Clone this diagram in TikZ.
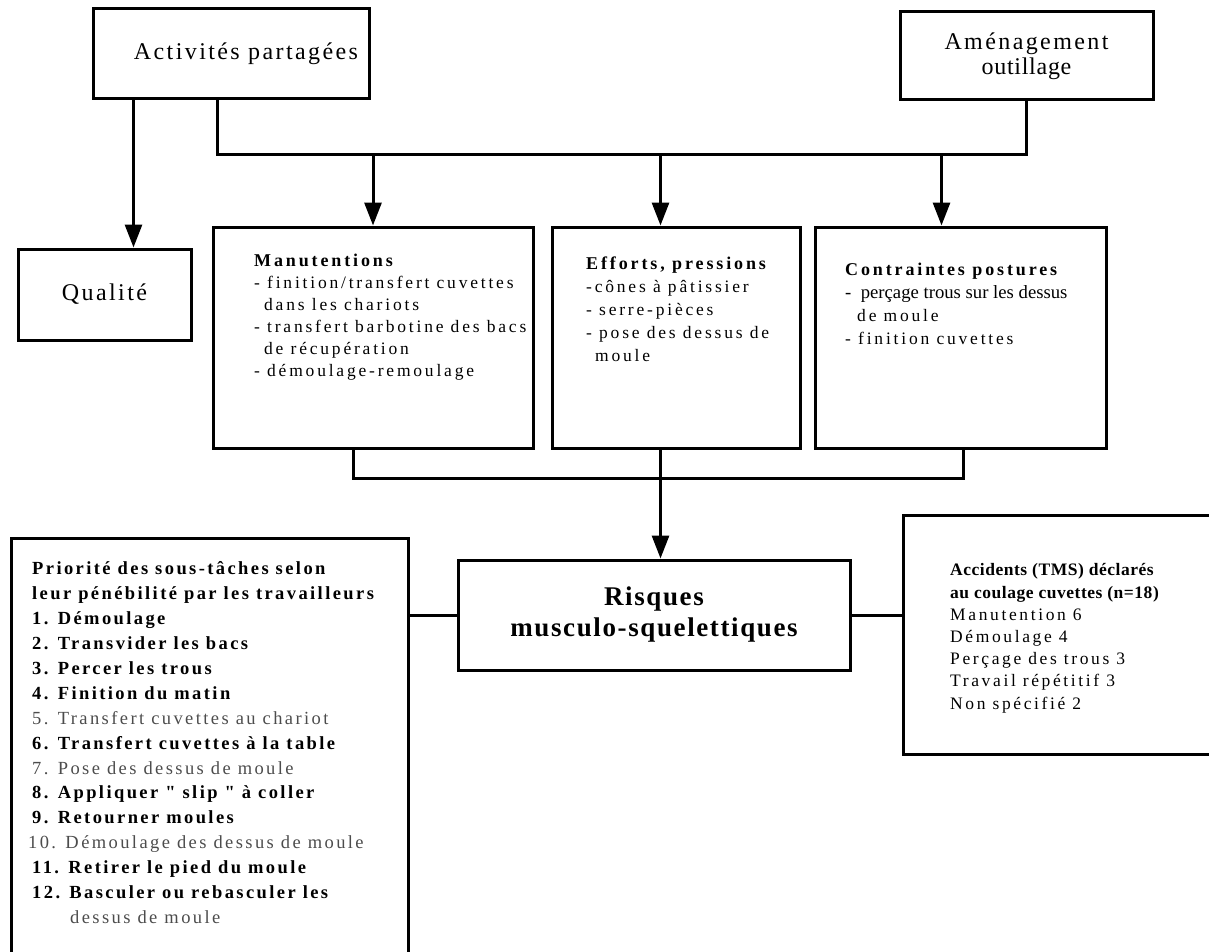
\documentclass[tikz,border=0pt]{standalone}
\usepackage{fontspec}
\setmainfont{Liberation Serif}
\newfontfamily\spA[LetterSpace=10]{Liberation Serif}
\newfontfamily\spB[LetterSpace=16]{Liberation Serif}
\newfontfamily\spC[LetterSpace=13]{Liberation Serif}
\newfontfamily\spD[LetterSpace=3]{Liberation Serif}
\newfontfamily\spE[LetterSpace=16]{Liberation Serif}
\newfontfamily\spF[LetterSpace=15]{Liberation Serif}
\newfontfamily\spG[LetterSpace=6]{Liberation Serif}
\newfontfamily\spH[LetterSpace=3]{Liberation Serif}
\usetikzlibrary{arrows.meta,calc}

\tikzset{
  box/.style={draw, line width=3pt, inner sep=0pt},
  conn/.style={line width=3pt},
  arr/.style={conn, -{Triangle[length=23pt,width=17pt]}},
  txt/.style={anchor=north west, inner sep=0pt, align=left, execute at begin node=\strut},
  lite/.style={black!70}
}

\begin{document}
\begin{tikzpicture}[x=1pt,y=-1pt]
      \useasboundingbox (0,0) rectangle (1209,952) ;
      \clip (0,0) rectangle (1209,952) ;
      % sources
      \node[box,minimum width=276pt,minimum height=90pt,font={\spA\fontsize{24}{28}\selectfont}] (act) at (231,54) {\hspace*{30pt}Activités partagées} ;
      \node[box,minimum width=253pt,minimum height=88pt,align=center,font={\spA\fontsize{24}{25}\selectfont}] (amen) at (1026.5,56) {Aménagement\\{\spD outillage}} ;
      \node[box,minimum width=173pt,minimum height=91pt,font={\spA\fontsize{24}{28}\selectfont}] (qual) at (104.5,294.5) {Qualité} ;
      % contraintes
      \node[box,minimum width=320pt,minimum height=221pt] (manu) at (373,337.5) {} ;
      \node[box,minimum width=248pt,minimum height=221pt] (eff) at (676,337.5) {} ;
      \node[box,minimum width=291pt,minimum height=221pt] (cont) at (960.5,337.5) {} ;
      \node[txt,font={\spB\fontsize{17.5}{22}\selectfont}] (manutxt) at (254,253.6) {{\spE\bfseries\fontsize{18}{22}\selectfont Manutentions}\\
        - finition/transfert cuvettes\\
        \hspace*{10pt}dans les chariots\\
        - transfert barbotine des bacs\\
        \hspace*{10pt}de récupération\\
        - démoulage-remoulage} ;
      \node[txt,font={\spB\fontsize{17.5}{23}\selectfont}] (efftxt) at (586,256.9) {{\spE\bfseries\fontsize{18}{23}\selectfont Efforts, pressions}\\
        -cônes à pâtissier\\
        - serre-pièces\\
        - pose des dessus de\\
        \hspace*{9pt}moule} ;
      \node[txt,font={\spB\fontsize{17.5}{23}\selectfont}] (conttxt) at (845,262.9) {{\spE\bfseries\fontsize{18}{23}\selectfont Contraintes postures}\\
        {\rmfamily\fontsize{18.7}{23}\selectfont -\ \ perçage trous sur les dessus}\\
        \hspace*{12pt}de moule\\
        - finition cuvettes} ;
      % risques
      \node[box,minimum width=392pt,minimum height=110pt,align=center,font={\spG\bfseries\fontsize{27}{31}\selectfont}] (risk) at (654,615) {Risques\\musculo-squelettiques} ;
      \node[box,minimum width=397pt,minimum height=462pt] (prio) at (209.5,769) {} ;
      \node[box,minimum width=347pt,minimum height=239pt] (acc) at (1076.5,634.5) {} ;
      \node[txt,font={\spC\fontsize{18.5}{24.9}\selectfont}] (priotxt) at (32,561.6) {{\bfseries Priorité des sous-tâches selon}\\
        {\bfseries leur pénébilité par les travailleurs}\\
        {\bfseries 1. Démoulage}\\
        {\bfseries 2. Transvider les bacs}\\
        {\bfseries 3. Percer les trous}\\
        {\bfseries 4. Finition du matin}\\
        {\color{black!70}5. Transfert cuvettes au chariot}\\
        {\bfseries 6. Transfert cuvettes à la table}\\
        {\color{black!70}7. Pose des dessus de moule}\\
        {\bfseries 8. Appliquer " slip " à coller}\\
        {\bfseries 9. Retourner moules}\\
        \hspace*{-4pt}{\color{black!70}10. Démoulage des dessus de moule}\\
        {\bfseries 11. Retirer le pied du moule}\\
        {\bfseries 12. Basculer ou rebasculer les}\\
        \hspace*{38pt}{\color{black!70}dessus de moule}} ;
      \node[txt,font={\spF\fontsize{17.5}{22.2}\selectfont}] (acctxt) at (950,563.5) {{\spH\bfseries Accidents (TMS) déclarés}\\
        {\spH\bfseries au coulage cuvettes (n=18)}\\
        Manutention 6\\
        Démoulage 4\\
        Perçage des trous 3\\
        Travail répétitif 3\\
        Non spécifié 2} ;
      % connecteurs
      \coordinate (q0) at ($(act.south west)+(42,0)$) ;
      \coordinate (a0) at ($(act.south west)+(126,0)$) ;
      \coordinate (busL) at ($(a0)+(0,54)$) ;
      \coordinate (e1) at ($(eff.north west)+(110,0)$) ;
      \coordinate (c1) at ($(cont.north west)+(128,0)$) ;
      \coordinate (m2) at ($(manu.south west)+(142,0)$) ;
      \coordinate (e2) at ($(eff.south west)+(110,0)$) ;
      \coordinate (c2) at ($(cont.south west)+(150,0)$) ;
      \coordinate (busB) at ($(m2)+(0,29)$) ;
      \draw[arr] (q0) -- (q0 |- qual.north) ;
      \draw[conn] (a0) -- (busL) -- (busL -| amen.south) -- (amen.south) ;
      \draw[arr] (manu.north |- busL) -- (manu.north) ;
      \draw[arr] (e1 |- busL) -- (e1) ;
      \draw[arr] (c1 |- busL) -- (c1) ;
      \draw[conn] (m2) -- (busB) -- (busB -| c2) -- (c2) ;
      \draw[arr] (e2) -- (e2 |- risk.north) ;
      \draw[conn] (risk.west) -- (risk.west -| prio.east) ;
      \draw[conn] (risk.east) -- (risk.east -| acc.west) ;
    \end{tikzpicture}
\end{document}
